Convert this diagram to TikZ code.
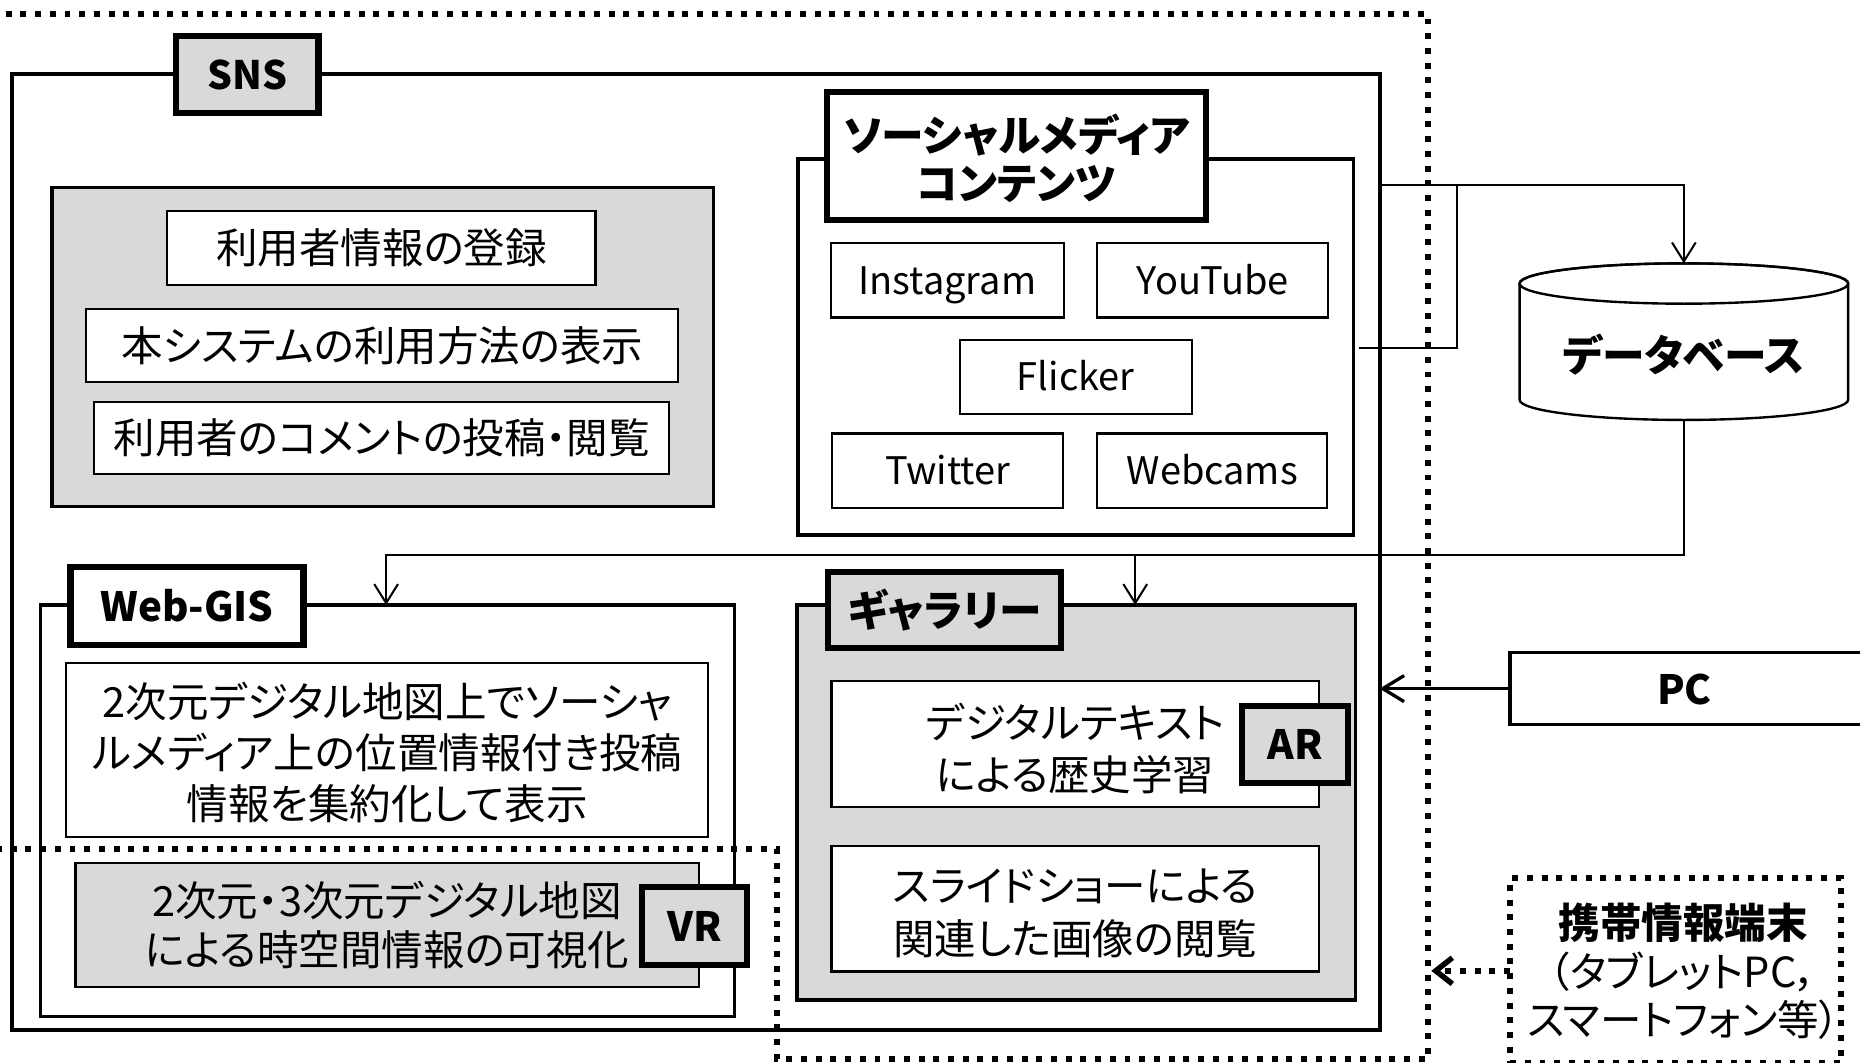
\documentclass[tikz,border=0pt]{standalone}
\usepackage{fontspec}
\setmainfont{Noto Sans CJK JP}[RawFeature=+palt]
\usetikzlibrary{fit,arrows.meta}
\definecolor{boxgray}{HTML}{D9D9D9}
\tikzset{
  frame/.style={draw, line width=1.4pt, inner sep=0pt, outer sep=0pt},
  tagbox/.style={draw, line width=2.6pt, inner sep=0pt, outer sep=0pt},
  itembox/.style={draw, fill=white, line width=0.9pt, inner sep=0pt, outer sep=0pt},
  plain/.style={inner sep=0pt, outer sep=0pt, align=center},
  jtext/.style={plain, font=\fontsize{17.5}{21.5}\selectfont},
  ltext/.style={plain, anchor=base, font=\fontsize{16}{19}\selectfont},
  btext/.style={plain, font=\bfseries\fontsize{17}{20.5}\selectfont},
  conn/.style={line width=0.85pt},
  tip/.style={-{Straight Barb[length=8pt,width=10pt]}},
  dotline/.style={line width=2.5pt, dash pattern=on 2.5pt off 3.7pt},
}
\begin{document}
\begin{tikzpicture}[x=0.5pt,y=-0.5pt]
\useasboundingbox (0,0) rectangle (1568,896);

% SNS frame
\node[frame, line width=1.7pt, fit={(10,62.5) (1163,868)}] (sns) {};
\node[tagbox, fill=boxgray, fit={(148.5,30.5) (268.5,95.5)}] (snslab) {};
\node[btext, font=\bfseries\fontsize{16.5}{20}\selectfont] (snslab-t) at (snslab.center) {SNS};

% user functions
\node[frame, fill=boxgray, fit={(43.8,158) (601.6,427)}] (usergrp) {};
\node[itembox, fit={(141,177.6) (502,240)}] (reg) {};
\node[jtext] (reg-t) at (reg.center) {利用者情報の登録};
\node[itembox, fit={(72.8,260.5) (571.8,321.8)}] (howto) {};
\node[jtext] (howto-t) at (howto.center) {本システムの利用方法の表示};
\node[itembox, fit={(79.6,338.6) (564,399.7)}] (cmt) {};
\node[jtext] (cmt-t) at (cmt.center) {利用者のコメントの投稿・閲覧};

% social media contents
\node[frame, fill=white, fit={(672.7,134) (1141,451)}] (smc) {};
\node[tagbox, fill=white, fit={(697,77.3) (1017,185.5)}] (smlab) {};
\node[btext, font=\bfseries\fontsize{18}{20.5}\selectfont] (smlab-t) at ([yshift=-1pt]smlab.center) {ソーシャルメディア\\コンテンツ};
\node[itembox, fit={(700.6,205) (896.6,267.6)}] (ig) {};
\node[ltext] (ig-t) at ([yshift=-5.8pt]ig.center) {Instagram};
\node[itembox, fit={(925,205) (1119.6,267.6)}] (yt) {};
\node[ltext] (yt-t) at ([yshift=-5.8pt]yt.center) {YouTube};
\node[itembox, fit={(809,286.7) (1004.6,349.3)}] (fl) {};
\node[ltext] (fl-t) at ([yshift=-5.8pt]fl.center) {Flicker};
\node[itembox, fit={(701.7,365.4) (896,428)}] (tw) {};
\node[ltext] (tw-t) at ([yshift=-5.8pt]tw.center) {Twitter};
\node[itembox, fit={(925,365.4) (1119,428)}] (wc) {};
\node[ltext] (wc-t) at ([yshift=-5.8pt]wc.center) {Webcams};

% database
\path[draw, fill=white, line width=1pt] (1281,239) -- (1281,337)
  arc[start angle=180, end angle=0, x radius=138.5, y radius=17] -- (1558,239)
  arc[start angle=0, end angle=-180, x radius=138.5, y radius=17] -- cycle;
\draw[line width=1pt] (1419.5,239) ellipse[x radius=138.5, y radius=17];
\node[btext, font=\bfseries\fontsize{18}{20}\selectfont] (db) at (1419.5,299) {データベース};
\coordinate (dbtop) at (1419.5,222);
\coordinate (dbbot) at (1419.5,354);

% Web-GIS
\node[frame, fill=white, fit={(34.4,510) (619.4,857)}] (gis) {};
\node[tagbox, fill=white, fit={(59.4,477.8) (255.9,543.8)}] (gislab) {};
\node[btext] (gislab-t) at (gislab.center) {Web-GIS};
\node[itembox, fit={(55.9,558.7) (597,705.6)}] (gistxt) {};
\node[jtext, font=\fontsize{17.5}{21.5}\selectfont] (gistxt-t) at ([yshift=-1pt]gistxt.center) {2次元デジタル地図上でソーシャ\\ルメディア上の位置情報付き投稿\\情報を集約化して表示};
\node[itembox, fill=boxgray, fit={(63.7,727.8) (589,831.8)}] (vrtxt) {};
\node[jtext, font=\fontsize{17.5}{21}\selectfont] (vrtxt-t) at (vrtxt.center) {2次元・3次元デジタル地図\\による時空間情報の可視化};
\node[tagbox, fill=boxgray, fit={(541,748) (630,813.6)}] (vr) {};
\node[btext] (vr-t) at (vr.center) {VR};

% Gallery
\node[frame, fill=boxgray, fit={(672,510) (1142.6,843)}] (gal) {};
\node[tagbox, fill=boxgray, fit={(698,482) (894.6,546.6)}] (gallab) {};
\node[btext, font=\bfseries\fontsize{18}{20}\selectfont] (gallab-t) at (gallab.center) {ギャラリー};
\node[itembox, fit={(701,574) (1112,680)}] (dtext) {};
\node[jtext, font=\fontsize{17.5}{22}\selectfont] (dtext-t) at ([yshift=-2pt]dtext.center) {デジタルテキスト\\による歴史学習};
\node[tagbox, fill=boxgray, fit={(1047,595) (1136.6,660)}] (ar) {};
\node[btext] (ar-t) at (ar.center) {AR};
\node[itembox, fit={(701,713) (1112,819)}] (slide) {};
\node[jtext, font=\fontsize{17.5}{22}\selectfont] (slide-t) at ([yshift=-2pt]slide.center) {スライドショーによる\\関連した画像の閲覧};

% PC
\node[frame, fill=white, fit={(1273,550) (1580,611)}] (pc) {};
\node[btext] (pctext) at (1420,581) {PC};

% mobile terminal
\node[dotline, draw, inner sep=0pt, outer sep=0pt, fit={(1273,740.4) (1552,896)}] (mob) {};
\node[plain, font=\fontsize{17.5}{20.5}\selectfont] (mobtext) at (1419,819) {\textbf{携帯情報端末}\\（タブレットPC，\\スマートフォン等）};

% connectors
\coordinate (smout) at (1146,293.5);
\coordinate (j1) at (1228,293.5);
\coordinate (j2) at (1228,156);
\draw[conn] (smout) -- (j1) -- (j2);
\draw[conn, tip] (sns.east |- j2) -| (dbtop);
\coordinate (gisarr) at (325.5,468);
\coordinate (galarr) at (957,468);
\draw[conn, tip] (dbbot) |- (gisarr) -- (gisarr |- gis.north);
\draw[conn, tip] (galarr) -- (galarr |- gal.north);
\draw[line width=1.4pt, -{Straight Barb[length=9pt,width=11pt]}] (pc.west) -- (pc.west -| sns.east);
\coordinate (mobtip) at (1206.6,818.4);
\draw[dotline, line width=2.3pt, -{Straight Barb[length=7pt,width=11pt,line width=2.3pt]}] (mob.west |- mobtip) -- (mobtip);

% outer dotted boundary
\draw[dotline] (-20,12) -- (1204,12) -- (1204,893) -- (655,893) -- (655,716) -- (-20,716);
\end{tikzpicture}
\end{document}
